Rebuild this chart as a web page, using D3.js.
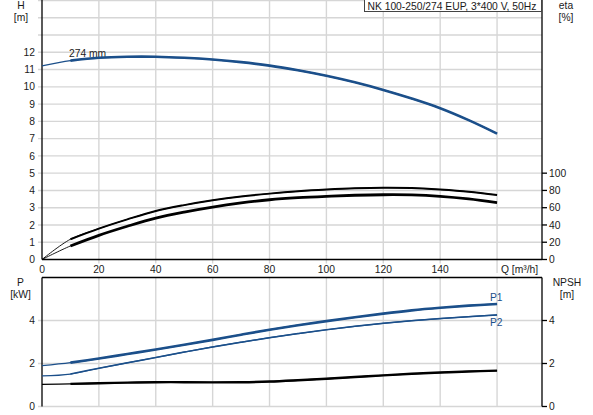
<!DOCTYPE html>
<html>
<head>
<meta charset="utf-8">
<script src="https://cdn.jsdelivr.net/npm/d3@7"></script>
<style>
  html, body { margin: 0; padding: 0; background: #fff; }
  svg { display: block; font-family: "Liberation Sans", Arial, sans-serif; }
  text { fill: #1a1a1a; }
</style>
</head>
<body>
<svg id="chart" width="593" height="415"></svg>
<script>
// values
const flowQ      = [0, 10, 20, 30, 40, 50, 60, 70, 80, 90, 100, 110, 120, 130, 140, 150, 160];
const headH      = [11.21, 11.52, 11.68, 11.74, 11.74, 11.68, 11.58, 11.43, 11.23, 10.96, 10.64, 10.26, 9.82, 9.32, 8.76, 8.07, 7.29];
const etaPump    = [0, 23.5, 35.8, 46.5, 56.2, 63, 68.6, 73, 76.3, 79, 81, 82.5, 83.2, 82.8, 81, 78.5, 74.7];
const etaTotal   = [0, 15.7, 28, 38.5, 48, 55, 60.8, 65.5, 69.2, 71.6, 73.2, 74.4, 75, 74.8, 73.2, 70.2, 65.9];
const powerP1    = [1.90, 2.04, 2.23, 2.44, 2.65, 2.87, 3.10, 3.34, 3.57, 3.78, 3.97, 4.15, 4.32, 4.47, 4.59, 4.69, 4.77];
const powerP2    = [1.42, 1.51, 1.78, 2.03, 2.28, 2.53, 2.77, 2.99, 3.20, 3.39, 3.57, 3.73, 3.87, 3.99, 4.09, 4.18, 4.26];
const npshValues = [1.03, 1.05, 1.08, 1.11, 1.13, 1.13, 1.12, 1.13, 1.16, 1.22, 1.29, 1.37, 1.45, 1.52, 1.58, 1.63, 1.67];

const qTicks    = [0, 20, 40, 60, 80, 100, 120, 140];
const qGrid     = [20, 40, 60, 80, 100, 120, 140, 160];
const hTicks    = [0, 1, 2, 3, 4, 5, 6, 7, 8, 9, 10, 11, 12];
const hGrid     = [1, 2, 3, 4, 5, 6, 7, 8, 9, 10, 11, 12, 13, 14, 15];
const etaTicks  = [0, 20, 40, 60, 80, 100];
const pTicks    = [0, 2, 4];
const npshTicks = [0, 2, 4];

const titleText = "NK 100-250/274 EUP, 3*400 V, 50Hz";
const blue = "#1b4f8a";
const gridColor = "#d6d6d6";

const svg = d3.select("#chart");

const x = d3.scaleLinear().domain([0, 175.8]).range([42, 542]);
const yH = d3.scaleLinear().domain([0, 15]).range([259.5, 0.5]);
const yEta = d3.scaleLinear().domain([0, 300]).range([259.5, 0.5]);
const yP = d3.scaleLinear().domain([0, 6]).range([406.5, 277.5]);
const yNpsh = d3.scaleLinear().domain([0, 6]).range([406.5, 277.5]);

// grid - upper
const grid = svg.append("g").attr("stroke", gridColor).attr("stroke-width", 1.4);
grid.selectAll(".hg").data(hGrid).enter().append("line")
    .attr("x1", 38).attr("x2", x.range()[1])
    .attr("y1", d => yH(d)).attr("y2", d => yH(d));
grid.selectAll(".vg").data(qGrid).enter().append("line")
    .attr("x1", d => x(d)).attr("x2", d => x(d))
    .attr("y1", yH(15)).attr("y2", d => d === 160 ? 273 : yH(0) + 4);
// grid - lower
grid.selectAll(".pg").data([0, 2, 4]).enter().append("line")
    .attr("x1", 38).attr("x2", x.range()[1])
    .attr("y1", d => yP(d)).attr("y2", d => yP(d));
grid.selectAll(".vg2").data(qGrid).enter().append("line")
    .attr("x1", d => x(d)).attr("x2", d => x(d))
    .attr("y1", yP(6)).attr("y2", yP(0));

// frame lines
const frame = svg.append("g").attr("stroke", "#000").attr("stroke-width", 1.3);
frame.append("line").attr("x1", x(0)).attr("x2", x(0)).attr("y1", 0).attr("y2", yH(0));
frame.append("line").attr("x1", x.range()[1]).attr("x2", x.range()[1]).attr("y1", 0).attr("y2", yH(0));
frame.append("line").attr("x1", x(0)).attr("x2", x.range()[1]).attr("y1", yH(0)).attr("y2", yH(0));
frame.append("line").attr("x1", x(0)).attr("x2", x(0)).attr("y1", yP(6)).attr("y2", yP(0));
frame.append("line").attr("x1", x.range()[1]).attr("x2", x.range()[1]).attr("y1", yP(6)).attr("y2", yP(0));
frame.append("line").attr("x1", x(0)).attr("x2", x.range()[1]).attr("y1", yP(6)).attr("y2", yP(6));

// right-hand tick marks
frame.selectAll(".et").data(etaTicks).enter().append("line")
    .attr("x1", 542).attr("x2", 547)
    .attr("y1", d => yEta(d)).attr("y2", d => yEta(d));
frame.selectAll(".nt").data(npshTicks).enter().append("line")
    .attr("x1", 542).attr("x2", 547)
    .attr("y1", d => yNpsh(d)).attr("y2", d => yNpsh(d));

// tick labels
const labels = svg.append("g").attr("font-size", 10.3);
labels.selectAll(".hl").data(hTicks).enter().append("text")
    .attr("x", 35).attr("y", d => yH(d) + 3.6)
    .attr("text-anchor", "end").text(d => d);
labels.selectAll(".el").data(etaTicks).enter().append("text")
    .attr("x", 549).attr("y", d => yEta(d) + 3.6)
    .text(d => d);
labels.selectAll(".ql").data(qTicks).enter().append("text")
    .attr("x", d => x(d)).attr("y", 272.5)
    .attr("text-anchor", "middle").text(d => d);
labels.append("text").attr("x", 501).attr("y", 272.5).text("Q [m³/h]");
labels.selectAll(".pl").data(pTicks).enter().append("text")
    .attr("x", 35).attr("y", d => yP(d) + 3.6)
    .attr("text-anchor", "end").text(d => d);
labels.selectAll(".nl").data(npshTicks).enter().append("text")
    .attr("x", 549).attr("y", d => yNpsh(d) + 3.6)
    .text(d => d);

// axis titles
const titles = [
    { t: ["H", "[m]"], x: 21, y: 9 },
    { t: ["eta", "[%]"], x: 566, y: 9 },
    { t: ["P", "[kW]"], x: 20.5, y: 286 },
    { t: ["NPSH", "[m]"], x: 567, y: 286 }
];
titles.forEach(d => {
    d.t.forEach((s, i) => {
        labels.append("text")
            .attr("x", d.x).attr("y", d.y + i * 11.5)
            .attr("text-anchor", "middle")
            .text(s);
    });
});

// curves
const pts = vals => flowQ.map((q, i) => [q, vals[i]]);

function curve(vals, yScale, color, thin, thick, from) {
    const line = d3.line()
        .x(d => x(d[0]))
        .y(d => yScale(d[1]))
        .curve(d3.curveCatmullRom.alpha(0.5));
    const all = pts(vals);
    svg.append("path")
        .attr("d", line(all))
        .attr("fill", "none")
        .attr("stroke", color)
        .attr("stroke-width", thin);
    svg.append("path")
        .attr("d", line(all.filter(d => d[0] >= from)))
        .attr("fill", "none")
        .attr("stroke", color)
        .attr("stroke-width", thick)
        .attr("stroke-linecap", "butt");
}

curve(headH, yH, blue, 1.3, 2.6, 10);
curve(etaPump, yEta, "#000", 0.9, 2, 10);
curve(etaTotal, yEta, "#000", 0.9, 2.8, 10);
curve(powerP1, yP, blue, 1.3, 2.6, 10);
curve(powerP2, yP, blue, 1.2, 1.5, 10);
curve(npshValues, yNpsh, "#000", 1.3, 2.4, 10);

// curve labels
labels.append("text").attr("x", 69).attr("y", 57).text("274 mm");
labels.append("text").attr("x", 490).attr("y", 301).style("fill", blue).text("P1");
labels.append("text").attr("x", 490).attr("y", 325.5).style("fill", blue).text("P2");

// title box top right
const box = svg.append("g");
box.append("rect")
    .attr("x", 364.5).attr("y", -1).attr("width", 177).attr("height", 12.5)
    .attr("fill", "#fff").attr("stroke", "#444").attr("stroke-width", 1);
box.append("text")
    .attr("x", 367.5).attr("y", 9.5)
    .attr("font-size", 10.3)
    .text(titleText);
</script>
</body>
</html>
